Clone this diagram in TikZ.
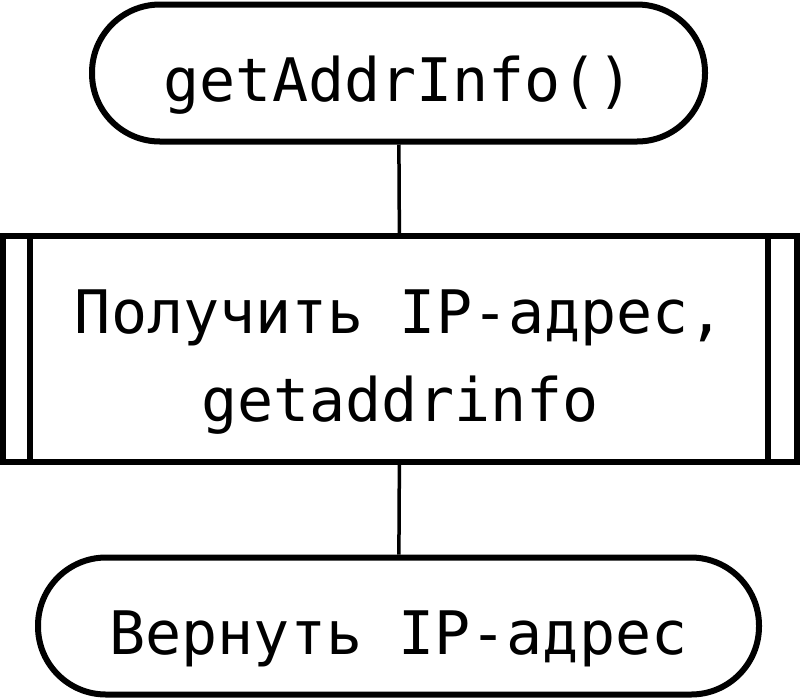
\documentclass[tikz,border=0pt]{standalone}
\usepackage{fontspec}
\setmonofont{DejaVu Sans Mono}
\usetikzlibrary{shapes,positioning}

\begin{document}
\begin{tikzpicture}[
    x=1pt, y=-1pt,
    font=\ttfamily\fontsize{60}{88}\selectfont,
    term/.style={rectangle, draw, line width=6pt, rounded corners=68pt, minimum height=137pt, inner sep=0pt, text height=57pt, text depth=0pt},
    subproc/.style={rectangle, draw, line width=6pt, minimum width=794pt, minimum height=226pt, align=center, inner sep=0pt, text height=144pt, text depth=0pt},
    line/.style={draw, line width=3.5pt}
]
    \useasboundingbox (0,0) rectangle (800,697);

    % Nodes
    \node [term, minimum width=613pt] (start) at (398.5,73) {getAddrInfo()};
    \node [subproc] (getip) at (400,349) {Получить IP-адрес,\\getaddrinfo};
    \node [term, minimum width=721pt] (end) at (398.5,626) {Вернуть IP-адрес};

    % Side bars
    \draw [line width=6pt] ([xshift=30pt]getip.north west) -- ([xshift=30pt]getip.south west);
    \draw [line width=6pt] ([xshift=-32pt]getip.north east) -- ([xshift=-32pt]getip.south east);

    % Paths
    \path [line] (start) -- (getip);
    \path [line] (getip) -- (end);

\end{tikzpicture}
\end{document}
